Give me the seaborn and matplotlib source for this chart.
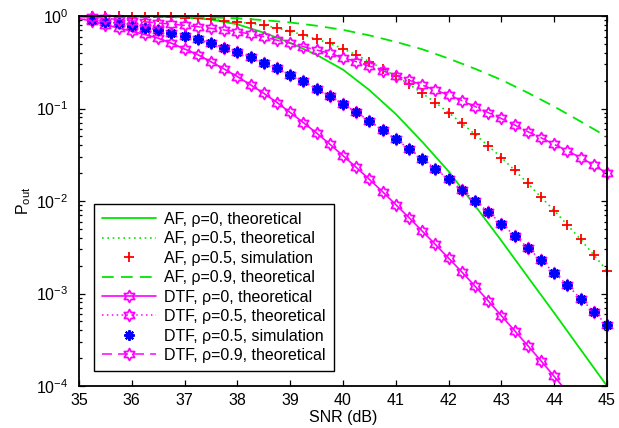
import numpy as np
import matplotlib
matplotlib.use("Agg")
import matplotlib.pyplot as plt
from matplotlib.path import Path
from matplotlib.lines import Line2D
from matplotlib.ticker import LogLocator, NullFormatter, FixedLocator
import seaborn as sns

# ---------------- data ----------------
snr_fine = [35.0, 35.25, 35.5, 35.75, 36.0, 36.25, 36.5, 36.75, 37.0, 37.25,
            37.5, 37.75, 38.0, 38.25, 38.5, 38.75, 39.0, 39.25, 39.5, 39.75,
            40.0, 40.25, 40.5, 40.75, 41.0, 41.25, 41.5, 41.75, 42.0, 42.25,
            42.5, 42.75, 43.0, 43.25, 43.5, 43.75, 44.0, 44.25, 44.5, 44.75,
            45.0]
snr_coarse = [35.0, 35.5, 36.0, 36.5, 37.0, 37.5, 38.0, 38.5, 39.0, 39.5,
              40.0, 40.5, 41.0, 41.5, 42.0, 42.5, 43.0, 43.5, 44.0, 44.5,
              45.0]
snr_ticks = [35, 36, 37, 38, 39, 40, 41, 42, 43, 44, 45]

af_rho0_theory = [0.999, 0.998, 0.995, 0.989, 0.968, 0.916, 0.813, 0.661,
                  0.513, 0.380, 0.263, 0.158, 0.0871, 0.0437, 0.0209,
                  0.00891, 0.00372, 0.00151, 6.17e-4, 2.48e-4, 1.0e-4]

af_rho09_theory = [1.0, 0.998, 0.993, 0.986, 0.977, 0.964, 0.944, 0.902,
                   0.851, 0.785, 0.708, 0.617, 0.525, 0.437, 0.347, 0.269,
                   0.204, 0.148, 0.105, 0.0724, 0.0495]

af_rho05_theory = [0.995, 0.993, 0.991, 0.989, 0.986, 0.982, 0.977, 0.968,
                   0.955, 0.940, 0.920, 0.891, 0.861, 0.832, 0.796, 0.741,
                   0.684, 0.624, 0.562, 0.505, 0.442, 0.380, 0.322, 0.268,
                   0.224, 0.183, 0.146, 0.116, 0.0902, 0.0692, 0.0526,
                   0.0394, 0.0295, 0.0215, 0.0155, 0.0110, 0.00789, 0.00551,
                   0.00385, 0.00261, 0.00177]

# simulation points start at 35.25 dB
af_rho05_sim = [0.993, 0.991, 0.989, 0.986, 0.982, 0.977, 0.968, 0.955,
                0.940, 0.920, 0.891, 0.861, 0.832, 0.796, 0.741, 0.684,
                0.624, 0.562, 0.505, 0.442, 0.380, 0.322, 0.268, 0.224,
                0.183, 0.146, 0.116, 0.0902, 0.0692, 0.0526, 0.0394, 0.0295,
                0.0215, 0.0155, 0.0110, 0.00789, 0.00551, 0.00385, 0.00261,
                0.00177]

# DTF, rho = 0 : 35 ... 44.25 dB
dtf_rho0_theory = [0.938, 0.881, 0.804, 0.741, 0.684, 0.631, 0.575, 0.508,
                   0.440, 0.382, 0.320, 0.267, 0.221, 0.180, 0.146, 0.116,
                   0.0906, 0.0703, 0.0543, 0.0412, 0.0309, 0.0231, 0.0171,
                   0.0126, 0.00912, 0.00661, 0.00473, 0.00339, 0.00241,
                   0.00171, 0.00120, 8.32e-4, 5.75e-4, 3.96e-4, 2.73e-4,
                   1.87e-4, 1.27e-4, 8.6e-5]

dtf_rho05_theory = [0.933, 0.906, 0.869, 0.834, 0.789, 0.748, 0.706, 0.661,
                    0.612, 0.560, 0.507, 0.454, 0.405, 0.356, 0.311, 0.271,
                    0.232, 0.197, 0.164, 0.136, 0.112, 0.0912, 0.0733,
                    0.0586, 0.0465, 0.0367, 0.0287, 0.0222, 0.0172, 0.01315,
                    0.01007, 0.00762, 0.00569, 0.00422, 0.00313, 0.00229,
                    0.00168, 0.00123, 8.81e-4, 6.35e-4, 4.56e-4]

dtf_rho05_sim = [0.906, 0.869, 0.834, 0.789, 0.748, 0.706, 0.661, 0.612,
                 0.560, 0.507, 0.454, 0.405, 0.356, 0.311, 0.271, 0.232,
                 0.197, 0.164, 0.136, 0.112, 0.0912, 0.0733, 0.0586, 0.0465,
                 0.0367, 0.0287, 0.0222, 0.0172, 0.01315, 0.01007, 0.00762,
                 0.00569, 0.00422, 0.00313, 0.00229, 0.00168, 0.00123,
                 8.81e-4, 6.35e-4, 4.56e-4]

dtf_rho09_theory = [0.982, 0.968, 0.944, 0.916, 0.889, 0.865, 0.841, 0.817,
                    0.792, 0.766, 0.736, 0.706, 0.675, 0.638, 0.597, 0.547,
                    0.507, 0.466, 0.429, 0.394, 0.354, 0.321, 0.288, 0.256,
                    0.226, 0.203, 0.179, 0.158, 0.140, 0.122, 0.105, 0.0902,
                    0.078, 0.0664, 0.0562, 0.0483, 0.041, 0.0348, 0.0294,
                    0.0245, 0.0199]

labels = ["AF, \u03c1=0, theoretical",
          "AF, \u03c1=0.5, theoretical",
          "AF, \u03c1=0.5, simulation",
          "AF, \u03c1=0.9, theoretical",
          "DTF, \u03c1=0, theoretical",
          "DTF, \u03c1=0.5, theoretical",
          "DTF, \u03c1=0.5, simulation",
          "DTF, \u03c1=0.9, theoretical"]

# ---------------- style ----------------
sns.set_style("ticks", rc={"axes.edgecolor": "black", "xtick.color": "black",
                           "ytick.color": "black", "text.color": "black",
                           "axes.labelcolor": "black"})
plt.rcParams["font.family"] = ["Liberation Sans", "DejaVu Sans"]
plt.rcParams["mathtext.fontset"] = "custom"
plt.rcParams["mathtext.rm"] = "Liberation Sans"
plt.rcParams["mathtext.it"] = "Liberation Sans:italic"
plt.rcParams["mathtext.bf"] = "Liberation Sans:bold"
plt.rcParams["mathtext.default"] = "regular"

FS = 11.5
GREEN = "#00e600"
MAGENTA = "#ff00ff"
hexagram = Path.unit_regular_star(6, innerCircle=1 / np.sqrt(3))
asterisk8 = (8, 2, 0)

fig = plt.figure(figsize=(6.19, 4.28), dpi=100)
ax = fig.add_axes([79 / 619, 1 - 386 / 428, 528 / 619, 370 / 428])

x_fine = np.array(snr_fine)
x_sim = x_fine[1:]
x_coarse = np.array(snr_coarse)
x_dtf0 = x_fine[:len(dtf_rho0_theory)]

skip_first = np.arange(len(x_fine)) > 0
dtf0_mask = (np.arange(len(x_dtf0)) > 0) & (np.array(dtf_rho0_theory) >= 1e-4)

common = dict(ax=ax, errorbar=None, sort=False)

# AF curves
sns.lineplot(x=x_coarse, y=af_rho0_theory, color=GREEN, linestyle="-",
             linewidth=1.3, label=labels[0], **common)
sns.lineplot(x=x_fine, y=af_rho05_theory, color=GREEN,
             linestyle=(0, (1, 2.2)), linewidth=1.2, label=labels[1], **common)
sns.lineplot(x=x_sim, y=af_rho05_sim, color="red", linestyle="none",
             marker="+", markersize=7.5, markeredgewidth=1.3,
             markeredgecolor="red", clip_on=False, label=labels[2], **common)
sns.lineplot(x=x_coarse, y=af_rho09_theory, color=GREEN,
             linestyle=(0, (6.5, 4.0)), linewidth=1.3, label=labels[3], **common)

# DTF curves
hex_kw = dict(marker=hexagram, markersize=8.5, markeredgewidth=1.3,
              markerfacecolor="none", markeredgecolor=MAGENTA)
sns.lineplot(x=x_dtf0, y=dtf_rho0_theory, color=MAGENTA, linestyle="-",
             linewidth=1.2, markevery=dtf0_mask, label=labels[4],
             **hex_kw, **common)
sns.lineplot(x=x_fine, y=dtf_rho05_theory, color=MAGENTA,
             linestyle=(0, (1, 2.2)), linewidth=1.1, markevery=skip_first,
             clip_on=False, label=labels[5], **hex_kw, **common)
sns.lineplot(x=x_sim, y=dtf_rho05_sim, color="blue", linestyle="none",
             marker=asterisk8, markersize=7.5, markeredgewidth=1.5,
             markeredgecolor="blue", clip_on=False, label=labels[6], **common)
sns.lineplot(x=x_fine, y=dtf_rho09_theory, color=MAGENTA,
             linestyle=(0, (6.5, 4.0)), linewidth=1.1, markevery=skip_first,
             clip_on=False, label=labels[7], **hex_kw, **common)

# ---------------- axes ----------------
ax.set_yscale("log")
ax.set_xlim(35, 45)
ax.set_ylim(1e-4, 1)
ax.xaxis.set_major_locator(FixedLocator(snr_ticks))
ax.yaxis.set_major_locator(LogLocator(base=10, numticks=10))
ax.yaxis.set_minor_locator(LogLocator(base=10, subs=np.arange(2, 10), numticks=20))
ax.yaxis.set_minor_formatter(NullFormatter())

for sp in ax.spines.values():
    sp.set_linewidth(1.3)
    sp.set_visible(True)
    sp.set_zorder(5)
ax.tick_params(which="both", direction="in", top=True, right=True,
               labelsize=FS, width=0.9)
ax.tick_params(which="major", length=4.5)
ax.tick_params(which="minor", length=2.5)
ax.tick_params(axis="y", which="major", pad=7.5)
ax.tick_params(axis="x", which="major", pad=5)

ax.set_xlabel("SNR (dB)", fontsize=FS)
ax.set_ylabel(r"$\mathregular{P_{out}}$", fontsize=FS)
ax.xaxis.set_label_coords(0.5, -0.066)
ax.yaxis.set_label_coords(-0.087, 0.5)

leg = ax.legend(loc="lower left",
                bbox_to_anchor=((94 - 79) / 528, (386 - 371) / 370),
                borderaxespad=0, frameon=True, fancybox=False,
                edgecolor="black", framealpha=1, fontsize=FS,
                handlelength=3.4, handletextpad=0.5, labelspacing=0.28,
                borderpad=0.5, numpoints=1)
leg.get_frame().set_linewidth(1.0)
for h in leg.legend_handles:
    if isinstance(h, Line2D) and len(h.get_xdata()) == 3:
        h.set_markevery([1])

fig.savefig("out.png", dpi=100, facecolor="white")
